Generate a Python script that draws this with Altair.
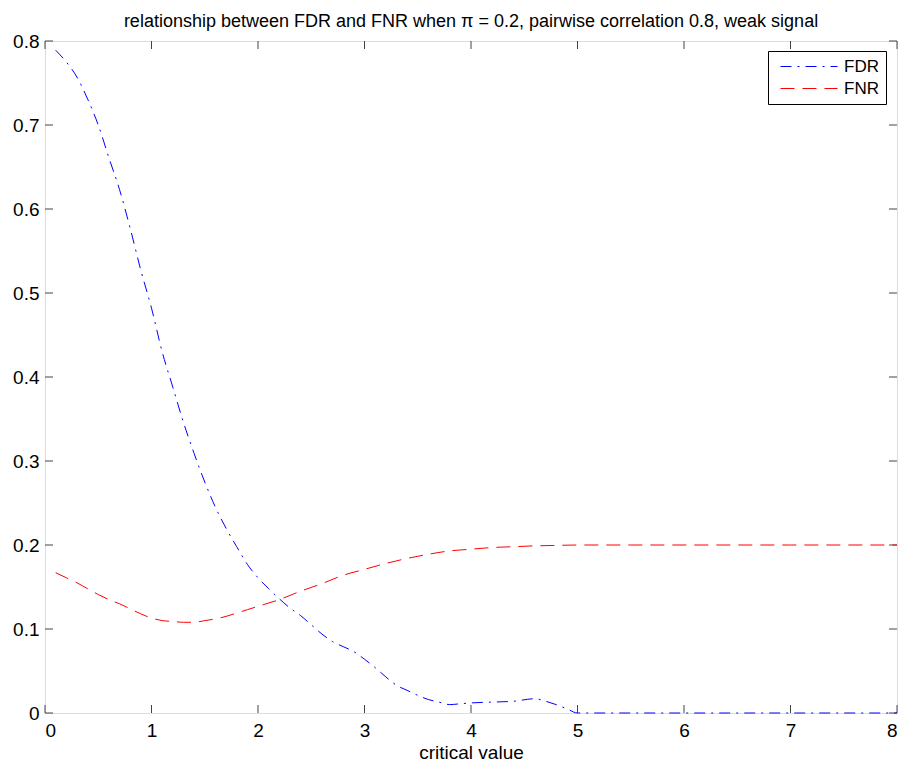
import altair as alt
import pandas as pd

# FDR curve (critical value, rate)
fdr_x = [0.10, 0.20, 0.30, 0.40, 0.50, 0.60, 0.70, 0.80, 0.90, 1.00,
         1.10, 1.20, 1.30, 1.40, 1.50, 1.60, 1.70, 1.80, 1.90, 2.00,
         2.10, 2.20, 2.30, 2.40, 2.50, 2.60, 2.70, 2.80, 2.90, 3.00,
         3.10, 3.20, 3.30, 3.40, 3.50, 3.60, 3.70, 3.80, 3.90, 4.00,
         4.20, 4.40, 4.60, 4.70, 4.80, 4.90, 5.00, 5.50, 6.00, 6.50,
         7.00, 7.50, 8.00]
fdr_y = [0.789, 0.775, 0.757, 0.731, 0.700, 0.661, 0.623, 0.577, 0.527, 0.482,
         0.430, 0.388, 0.346, 0.309, 0.275, 0.245, 0.220, 0.198, 0.177, 0.161,
         0.148, 0.136, 0.125, 0.116, 0.105, 0.094, 0.085, 0.079, 0.073, 0.064,
         0.054, 0.043, 0.033, 0.027, 0.021, 0.016, 0.013, 0.010, 0.011, 0.012,
         0.013, 0.014, 0.017, 0.014, 0.010, 0.005, 0.000, 0.000, 0.000, 0.000,
         0.000, 0.000, 0.000]

# FNR curve
fnr_x = [0.10, 0.20, 0.30, 0.40, 0.50, 0.60, 0.70, 0.80, 0.90, 1.00,
         1.10, 1.20, 1.30, 1.40, 1.50, 1.60, 1.70, 1.80, 1.90, 2.00,
         2.20, 2.40, 2.60, 2.80, 3.00, 3.20, 3.40, 3.60, 3.80, 4.00,
         4.20, 4.40, 4.60, 4.80, 5.00, 5.50, 6.00, 6.50, 7.00, 7.50, 8.00]
fnr_y = [0.167, 0.161, 0.155, 0.148, 0.141, 0.135, 0.130, 0.124, 0.118, 0.113,
         0.110, 0.109, 0.108, 0.108, 0.110, 0.112, 0.115, 0.119, 0.123, 0.127,
         0.135, 0.145, 0.154, 0.164, 0.171, 0.178, 0.184, 0.189, 0.193, 0.195,
         0.197, 0.198, 0.199, 0.1995, 0.200, 0.200, 0.200, 0.200, 0.200, 0.200, 0.200]

series_names = ["FDR", "FNR"]
series_colors = ["#0000ff", "#ff0000"]
series_dashes = [[11, 6, 2, 6], [14, 8]]

x_ticks = [0, 1, 2, 3, 4, 5, 6, 7, 8]
y_ticks = [0, 0.1, 0.2, 0.3, 0.4, 0.5, 0.6, 0.7, 0.8]

title_text = "relationship between FDR and FNR when \u03c0 = 0.2, pairwise correlation 0.8, weak signal"
x_title = "critical value"

W, H = 852, 672
FONT = "Liberation Sans"
TICK = 8

df = pd.concat([
    pd.DataFrame({"x": fdr_x, "y": fdr_y, "series": "FDR", "order": range(len(fdr_x))}),
    pd.DataFrame({"x": fnr_x, "y": fnr_y, "series": "FNR", "order": range(len(fnr_x))}),
])
xt = pd.DataFrame({"x": x_ticks})
yt = pd.DataFrame({"y": y_ticks})

xscale = alt.Scale(domain=[0, 8], nice=False, zero=False)
yscale = alt.Scale(domain=[0, 0.8], nice=False, zero=False)

legend_opts = dict(title=None, orient="none", legendX=723, legendY=10,
                   symbolType="stroke", symbolSize=3249,
                   symbolStrokeWidth=1, clipHeight=17, rowPadding=4,
                   padding=7, symbolOffset=5, labelOffset=6,
                   labelFont=FONT, labelFontSize=17, labelColor="black",
                   strokeColor="black", fillColor="white")

lines = alt.Chart(df).mark_line(strokeWidth=1, interpolate="monotone").encode(
    x=alt.X("x:Q", scale=xscale, title=x_title,
            axis=alt.Axis(values=x_ticks, format="~g", domain=False, ticks=False, grid=False,
                          labelFont=FONT, labelFontSize=19, labelColor="black",
                          labelPadding=8, titleFont=FONT, titleFontSize=19,
                          titleFontWeight="normal", titleColor="black", titlePadding=3)),
    y=alt.Y("y:Q", scale=yscale, title=None,
            axis=alt.Axis(values=y_ticks, format="~g", domain=False, ticks=False, grid=False,
                          labelFont=FONT, labelFontSize=19, labelColor="black",
                          labelPadding=6)),
    color=alt.Color("series:N",
                    scale=alt.Scale(domain=series_names, range=series_colors),
                    legend=alt.Legend(**legend_opts)),
    strokeDash=alt.StrokeDash("series:N",
                              scale=alt.Scale(domain=series_names, range=series_dashes),
                              legend=alt.Legend(**legend_opts)),
    order="order:Q",
)

tick_color = "#444444"
bottom_ticks = alt.Chart(xt).mark_rule(color=tick_color, strokeWidth=1).encode(
    x=alt.X("x:Q", scale=xscale), y=alt.value(H), y2=alt.value(H - TICK))
top_ticks = alt.Chart(xt).mark_rule(color=tick_color, strokeWidth=1).encode(
    x=alt.X("x:Q", scale=xscale), y=alt.value(0), y2=alt.value(TICK))
left_ticks = alt.Chart(yt).mark_rule(color=tick_color, strokeWidth=1).encode(
    y=alt.Y("y:Q", scale=yscale), x=alt.value(0), x2=alt.value(TICK))
right_ticks = alt.Chart(yt).mark_rule(color=tick_color, strokeWidth=1).encode(
    y=alt.Y("y:Q", scale=yscale), x=alt.value(W), x2=alt.value(W - TICK))

chart = alt.layer(bottom_ticks, top_ticks, left_ticks, right_ticks, lines).properties(
    width=W, height=H,
    title=alt.TitleParams(title_text, font=FONT, fontSize=18, fontWeight="normal",
                          color="black", anchor="middle", offset=1),
    padding={"left": 37, "top": 33, "right": 1, "bottom": 52},
    autosize=alt.AutoSizeParams(type="none"),
).configure_view(stroke="black", strokeWidth=1).configure(background="white")

chart.save("out.html", embed_options={"renderer": "svg", "actions": False})
